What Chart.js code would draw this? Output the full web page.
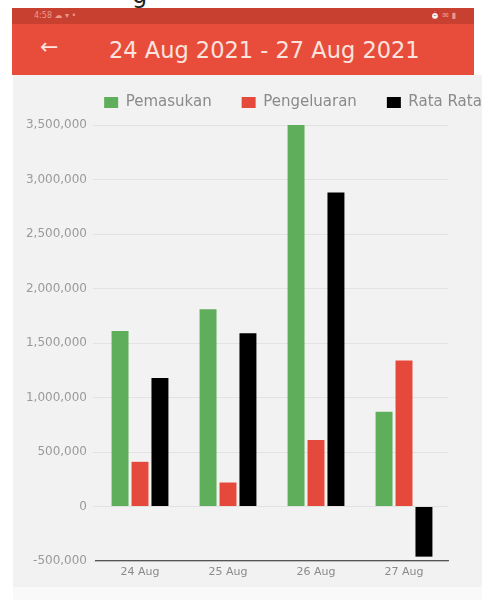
<!DOCTYPE html>
<html>
<head>
<meta charset="utf-8">
<script src="https://cdn.jsdelivr.net/npm/chart.js@4"></script>
<style>
  html, body { margin:0; padding:0; width:482px; height:600px; overflow:hidden; background:#fff; font-family:"DejaVu Sans", sans-serif; }
  #cap { position:absolute; left:132px; top:-19px; font-size:24px; color:#222; }
  #status { position:absolute; left:12px; top:8px; width:462px; height:16px; background:#c8402f; color:#e89a8e; font-size:8px; line-height:16px; }
  #status .l { position:absolute; left:22px; } #status .r { position:absolute; right:18px; }
  #header { position:absolute; left:12px; top:24px; width:462px; height:51px; background:#e84d3c; color:#fbe3de; }
  #back { position:absolute; left:28px; top:10px; font-size:22px; }
  #title { position:absolute; left:97px; top:13px; font-size:22.5px; white-space:nowrap; }
  #panel { position:absolute; left:13px; top:75px; width:469px; height:512px; background:#f2f2f2; overflow:hidden; }
  #wrap { position:absolute; left:0; top:0; width:560px; height:512px; }
  #bottom { position:absolute; left:13px; top:587px; width:469px; height:13px; background:#f9f9f9; }
</style>
</head>
<body>
<div id="cap">g</div>
<div id="status"><span class="l">4:58 ☁ ▾ •</span><span class="r">⏰ ✉ ▮</span></div>
<div id="header"><span id="back">←</span><span id="title">24 Aug 2021 - 27 Aug 2021</span></div>
<div id="panel"><div id="wrap"><canvas id="c"></canvas></div></div>
<div id="bottom"></div>
<script>
const categories = ["24 Aug", "25 Aug", "26 Aug", "27 Aug"];
const pemasukan = [1610000, 1810000, 3500000, 870000];
const pengeluaran = [410000, 220000, 610000, 1340000];
const rataRata = [1180000, 1590000, 2880000, -460000];
const seriesNames = ["Pemasukan", "Pengeluaran", "Rata Rata"];
const yMin = -500000, yMax = 3500000, yStep = 500000;

const legendHeightFix = {
  id: 'legendHeightFix',
  afterInit(chart) {
    const lg = chart.legend;
    if (!lg) return;
    const orig = lg.fit.bind(lg);
    lg.fit = function () { orig(); this.height = 60; };
  }
};

new Chart(document.getElementById('c'), {
  type: 'bar',
  data: {
    labels: categories,
    datasets: [
      { label: seriesNames[0], data: pemasukan, backgroundColor: '#5fae5b', yAxisID: 'y' },
      { label: seriesNames[1], data: pengeluaran, backgroundColor: '#e5493b', yAxisID: 'y' },
      { label: seriesNames[2], data: rataRata, backgroundColor: '#000000', yAxisID: 'y' }
    ]
  },
  options: {
    responsive: true,
    maintainAspectRatio: false,
    animation: false,
    datasets: { bar: { categoryPercentage: 0.68, barPercentage: 0.85 } },
    layout: { padding: { top: -10, left: 0, right: 0, bottom: 0 } },
    plugins: {
      tooltip: { enabled: false },
      legend: {
        position: 'top',
        align: 'center',
        labels: {
          boxWidth: 14, boxHeight: 11, padding: 30,
          color: '#8a8a8a',
          font: { family: 'DejaVu Sans', size: 15 }
        }
      }
    },
    scales: {
      x: {
        grid: { display: false },
        border: { display: true, color: '#555', width: 1.2 },
        ticks: { color: '#8a8a8a', font: { family: 'DejaVu Sans', size: 11 }, padding: -3 },
        afterFit(s) { s.height = 26; }
      },
      y: {
        position: 'left',
        min: yMin, max: yMax,
        grid: { color: '#e2e2e2', tickLength: 3 },
        border: { display: false },
        ticks: { stepSize: yStep, color: '#9a9a9a', font: { family: 'DejaVu Sans', size: 12 }, padding: 6 },
        afterFit(s) { s.width = 83; }
      },
      y2: {
        type: 'linear',
        position: 'right',
        display: true,
        grid: { display: false },
        border: { display: false },
        ticks: { display: false },
        afterFit(s) { s.width = 125; }
      }
    }
  },
  plugins: [legendHeightFix]
});
</script>
</body>
</html>
